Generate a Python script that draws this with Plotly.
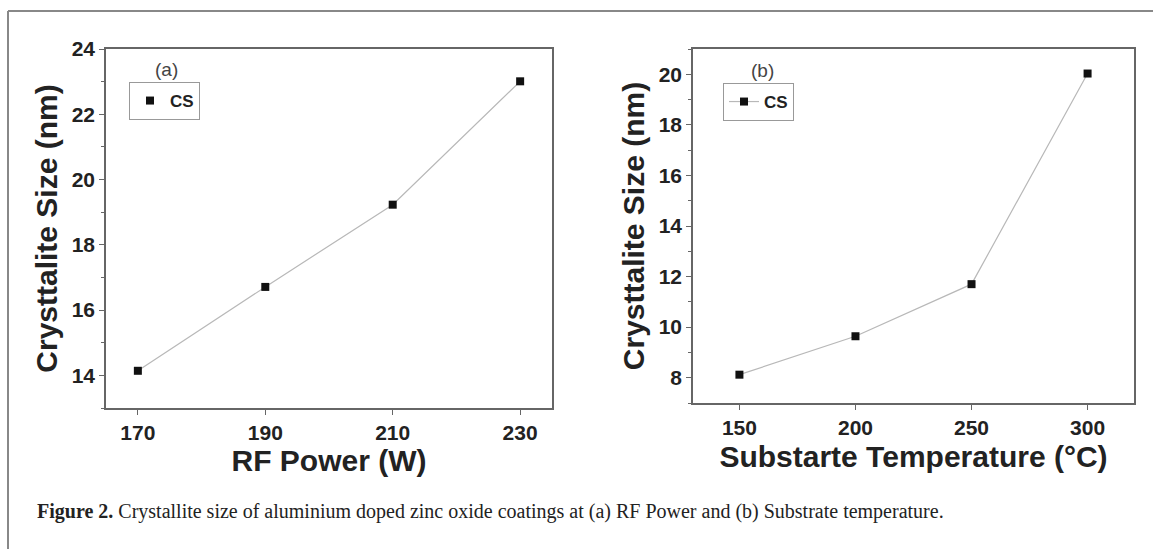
import plotly.graph_objects as go

# ---- data ----
rf_power = [170, 190, 210, 230]
cs_rf = [14.14, 16.71, 19.23, 23.01]
sub_temp = [150, 200, 250, 300]
cs_temp = [8.12, 9.64, 11.70, 20.03]

series_name = "CS"
x_title_a = "RF Power (W)"
x_title_b = "Substarte Temperature (°C)"
y_title = "Crysttalite Size (nm)"
caption = ("<b>Figure 2.</b> Crystallite size of aluminium doped zinc oxide coatings "
           "at (a) RF Power and (b) Substrate temperature.")

W, H = 1153, 549
def px(x):
    return x / W
def py(y):
    return 1 - y / H

AX = "#666666"
TXT = "#222222"
LINE = "#b8b8b8"
FONT = "Liberation Sans"

fig = go.Figure()

# panel (a): line without legend + markers with legend
fig.add_trace(go.Scatter(x=rf_power, y=cs_rf, mode="lines",
                         line=dict(color=LINE, width=1.2),
                         showlegend=False, xaxis="x", yaxis="y"))
fig.add_trace(go.Scatter(x=rf_power, y=cs_rf, mode="markers", name=series_name,
                         marker=dict(symbol="square", size=8, color="#111111"),
                         xaxis="x", yaxis="y", legend="legend"))
# panel (b)
fig.add_trace(go.Scatter(x=sub_temp, y=cs_temp, mode="lines+markers", name=series_name,
                         line=dict(color=LINE, width=1.2),
                         marker=dict(symbol="square", size=8, color="#111111"),
                         xaxis="x2", yaxis="y2", legend="legend2"))

def xaxis(domain, rng, tick0, dtick, title, standoff):
    return dict(domain=domain, range=rng, tick0=tick0, dtick=dtick,
                showline=True, linecolor=AX, linewidth=1.5, mirror=True,
                ticks="outside", ticklen=5, tickcolor=AX, tickwidth=1.2,
                showgrid=False, zeroline=False,
                tickfont=dict(family=FONT, size=21, color=TXT, weight="bold"),
                title=dict(text=title, font=dict(family=FONT, size=30, color=TXT, weight="bold"),
                           standoff=standoff),
                automargin=False)

def yaxis(domain, rng, tick0, dtick, anchor):
    return dict(domain=domain, range=rng, tick0=tick0, dtick=dtick, anchor=anchor,
                showline=True, linecolor=AX, linewidth=1.5, mirror=True,
                ticks="outside", ticklen=5, tickcolor=AX, tickwidth=1.2,
                minor=dict(dtick=1, ticks="outside", ticklen=3, tickcolor=AX, tickwidth=1),
                showgrid=False, zeroline=False,
                tickfont=dict(family=FONT, size=21, color=TXT, weight="bold"),
                title=dict(text=y_title, font=dict(family=FONT, size=30, color=TXT, weight="bold"),
                           standoff=5),
                automargin=False)

legend_common = dict(bgcolor="white", bordercolor="#999999", borderwidth=1,
                     font=dict(family=FONT, size=17, color=TXT, weight="bold"),
                     xanchor="left", yanchor="top", itemwidth=30,
                     tracegroupgap=0)

fig.update_layout(
    width=W, height=H,
    margin=dict(l=0, r=0, t=0, b=0),
    paper_bgcolor="white", plot_bgcolor="white",
    xaxis=xaxis([px(106), px(552)], [165, 235], 170, 20, x_title_a, 7) | dict(anchor="y"),
    yaxis=yaxis([py(408), py(49)], [13, 24], 14, 2, "x"),
    xaxis2=xaxis([px(693), px(1134)], [130, 320], 150, 50, x_title_b, 8) | dict(anchor="y2"),
    yaxis2=yaxis([py(403), py(49)], [7, 21], 8, 2, "x2"),
    legend=legend_common | dict(x=px(129), y=py(82)),
    legend2=legend_common | dict(x=px(723), y=py(83)),
    showlegend=True,
)

fig.add_annotation(text="(a)", x=px(166), y=py(69), xref="paper", yref="paper",
                   xanchor="center", yanchor="middle",
                   showarrow=False, font=dict(family=FONT, size=19, color="#444444"))
fig.add_annotation(text="(b)", x=px(762), y=py(70), xref="paper", yref="paper",
                   xanchor="center", yanchor="middle",
                   showarrow=False, font=dict(family=FONT, size=19, color="#444444"))
fig.add_annotation(text=caption, x=px(35), y=py(511), xref="paper", yref="paper",
                   xanchor="left", yanchor="middle", showarrow=False,
                   font=dict(family="Liberation Serif", size=20, color=TXT))

# outer frame (open at right and bottom, as cropped)
fig.add_shape(type="line", xref="paper", yref="paper", x0=px(8), x1=px(8), y0=0, y1=py(11),
              line=dict(color="#888888", width=2))
fig.add_shape(type="line", xref="paper", yref="paper", x0=px(8), x1=1, y0=py(11), y1=py(11),
              line=dict(color="#888888", width=2))

fig.write_html("out.html")
